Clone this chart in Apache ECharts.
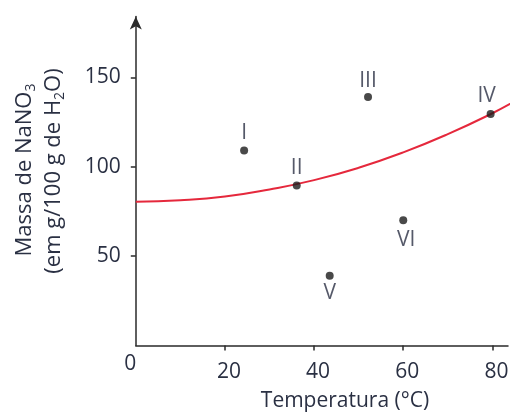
<!DOCTYPE html>
<html><head><meta charset="utf-8">
<script src="https://cdn.jsdelivr.net/npm/echarts@6/dist/echarts.min.js"></script>
<style>html,body{margin:0;padding:0;background:#fff}#c{width:518px;height:412px}</style>
</head><body><div id="c"></div>
<script>
// Curve (solubility) samples
const curveX = [0, 10, 20, 30, 40, 50, 60, 70, 80, 85.5];
const curveY = [80.4, 81.2, 83.3, 87.3, 92.5, 99.4, 108, 118.2, 129.9, 137.3];
// Labeled points
const pointNames = ['I', 'II', 'III', 'IV', 'V', 'VI'];
const pointX = [24.3, 36.1, 52.1, 79.6, 43.5, 60];
const pointY = [109, 89.5, 139, 129.5, 39, 70];
// Axis ticks / labels
const xTicks = [20, 40, 60, 80];
const xLabels = [0, 20, 40, 60, 80];
const yTicks = [50, 100, 150];
const xName = 'Temperatura (°C)';
const yNameLine1 = ['Massa de NaNO', '3'];
const yNameLine2 = ['(em g/100 g de H', '2', 'O)'];

const FONT = '"Open Sans", sans-serif';
const TXT = '#2a3043';
const AX = '#2a2a2a';

const chart = echarts.init(document.getElementById('c'), null, {renderer: 'canvas'});

const labelPlace = {
  'I': {position: 'top', distance: 3},
  'II': {position: 'top', distance: 3},
  'III': {position: 'top', distance: 1},
  'IV': {position: 'top', distance: 3, offset: [-4, 0]},
  'V': {position: 'bottom', distance: 3},
  'VI': {position: 'bottom', distance: 5, offset: [3, 0]}
};

const scatterData = pointNames.map((n, i) => ({
  name: n,
  value: [pointX[i], pointY[i]],
  label: Object.assign({show: true, formatter: n}, labelPlace[n])
}));

const option = {
  animation: false,
  backgroundColor: '#fff',
  grid: {left: 135.8, right: 10, top: 16.5, bottom: 66.5, containLabel: false, outerBoundsMode: 'none'},
  xAxis: {
    type: 'value', min: 0, max: 83.5,
    axisLine: {show: true, onZero: false, lineStyle: {color: AX, width: 1.5}},
    axisTick: {show: true, length: 5, inside: false, customValues: xTicks, lineStyle: {color: AX, width: 1.5}},
    axisLabel: {
      show: true, customValues: xLabels, margin: 8,
      fontFamily: FONT, fontSize: 21, color: TXT,
      formatter: v => v === 0 ? '{z|0}' : '{n|' + v + '}',
      rich: {
        z: {fontFamily: FONT, fontSize: 21, color: TXT, padding: [0, 11, 0, 0]},
        n: {fontFamily: FONT, fontSize: 21, color: TXT, padding: [8, 0, 0, 8]}
      }
    },
    splitLine: {show: false}
  },
  yAxis: {
    type: 'value', min: 0, max: 184,
    axisLine: {show: true, onZero: false, symbol: ['none', 'arrow'], symbolSize: [9, 13], lineStyle: {color: AX, width: 1.5}},
    axisTick: {show: true, length: 5, inside: false, customValues: yTicks, lineStyle: {color: AX, width: 1.5}},
    axisLabel: {show: true, customValues: yTicks, margin: 15, fontFamily: FONT, fontSize: 21, color: TXT},
    splitLine: {show: false}
  },
  series: [
    {
      type: 'line',
      data: curveX.map((x, i) => [x, curveY[i]]),
      smooth: true,
      showSymbol: false,
      clip: false,
      lineStyle: {color: '#e5283c', width: 2},
      z: 2
    },
    {
      type: 'scatter',
      data: scatterData,
      symbol: 'circle',
      symbolSize: 8,
      itemStyle: {color: '#1b1b1b'},
      label: {fontFamily: FONT, fontSize: 21, color: TXT},
      z: 3
    }
  ],
  graphic: [
    {
      type: 'text', x: 345, y: 401,
      style: {text: xName, fontFamily: FONT, fontSize: 21, fill: TXT, align: 'center', verticalAlign: 'middle'}
    },
    {
      type: 'text', x: 25, y: 170, rotation: Math.PI / 2,
      style: {
        text: yNameLine1[0] + '{s|' + yNameLine1[1] + '}',
        fontFamily: FONT, fontSize: 22, fill: TXT, align: 'center', verticalAlign: 'middle',
        rich: {s: {fontFamily: FONT, fontSize: 14, fill: TXT, padding: [13, 0, 0, 0]}}
      }
    },
    {
      type: 'text', x: 54, y: 171, rotation: Math.PI / 2,
      style: {
        text: yNameLine2[0] + '{s|' + yNameLine2[1] + '}' + yNameLine2[2],
        fontFamily: FONT, fontSize: 22, fill: TXT, align: 'center', verticalAlign: 'middle',
        rich: {s: {fontFamily: FONT, fontSize: 14, fill: TXT, padding: [13, 0, 0, 0]}}
      }
    }
  ]
};
chart.setOption(option);
</script>
</body></html>
